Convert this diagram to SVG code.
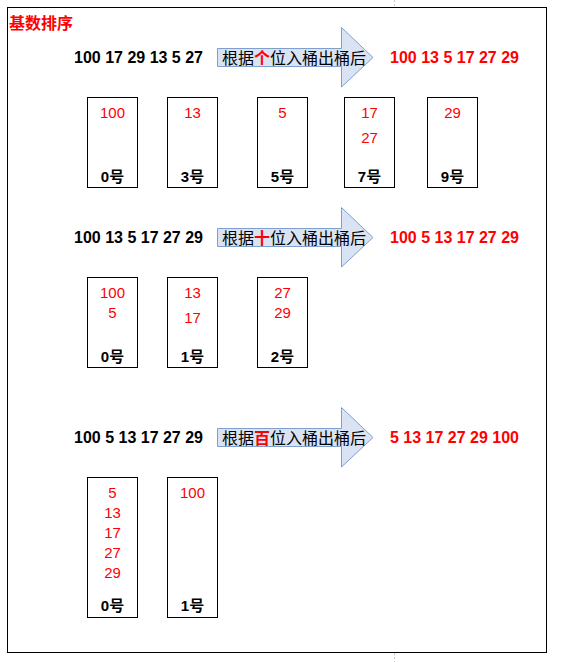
<svg xmlns="http://www.w3.org/2000/svg" width="561" height="662" viewBox="0 0 561 662">
<style>
.frame{fill:#fff;stroke:#000;stroke-width:1}
.box{fill:#fff;stroke:#000;stroke-width:1}
.arrow{fill:#dae3f3;stroke:#7f9fcf;stroke-width:1}
.seq{font-family:"Liberation Sans","Noto Sans CJK SC",sans-serif;font-size:16px;font-weight:bold;fill:#000}
.res{font-family:"Liberation Sans","Noto Sans CJK SC",sans-serif;font-size:16px;font-weight:bold;fill:#ff0000}
.num{font-family:"Liberation Sans",sans-serif;font-size:15px;fill:#ff0000;text-anchor:middle}
.lbl{font-family:"Liberation Sans","Noto Sans CJK SC",sans-serif;font-size:15px;font-weight:bold;fill:#000;text-anchor:middle}
.at{font-family:"Noto Sans CJK SC",sans-serif;font-size:16px;fill:#000}
.hl{fill:#ff0000;font-weight:bold}
.title{font-family:"Noto Sans CJK SC",sans-serif;font-size:16px;font-weight:bold;fill:#ff0000}
.mark{stroke:#c8c8c8;stroke-width:1;stroke-dasharray:2,2}
</style>
<rect width="561" height="662" fill="#fff"/>
<line class="mark" x1="394.5" y1="0" x2="394.5" y2="7"/>
<line class="mark" x1="394.5" y1="653" x2="394.5" y2="662"/>
<rect class="frame" x="7.5" y="7.5" width="539" height="645"/>
<text class="title" x="9" y="29">基数排序</text>

<g id="connectors">
<polygon id="arrow1" class="arrow" points="217.5,48.5 341.5,48.5 341.5,27.5 373,57.5 341.5,87 341.5,66.5 217.5,66.5"/>
<polygon id="arrow2" class="arrow" points="217.5,228.5 341.5,228.5 341.5,207.5 373,237.5 341.5,267 341.5,246.5 217.5,246.5"/>
<polygon id="arrow3" class="arrow" points="217.5,428.5 341.5,428.5 341.5,407.5 373,437.5 341.5,467 341.5,446.5 217.5,446.5"/>
</g>

<g id="row1">
<text class="seq" x="74" y="63">100 17 29 13 5 27</text>
<text class="at" x="222" y="64">根据<tspan class="hl">个</tspan>位入桶出桶后</text>
<text class="res" x="390" y="63">100 13 5 17 27 29</text>
</g>
<g id="r1b0"><rect class="box" x="87.5" y="97.5" width="50" height="90"/><text class="num" x="112.5" y="118">100</text><text class="lbl" x="112.5" y="182">0号</text></g>
<g id="r1b3"><rect class="box" x="167.5" y="97.5" width="50" height="90"/><text class="num" x="192.5" y="118">13</text><text class="lbl" x="192.5" y="182">3号</text></g>
<g id="r1b5"><rect class="box" x="257.5" y="97.5" width="50" height="90"/><text class="num" x="282.5" y="118">5</text><text class="lbl" x="282.5" y="182">5号</text></g>
<g id="r1b7"><rect class="box" x="344.5" y="97.5" width="50" height="90"/><text class="num" x="369.5" y="118">17</text><text class="num" x="369.5" y="143">27</text><text class="lbl" x="369.5" y="182">7号</text></g>
<g id="r1b9"><rect class="box" x="427.5" y="97.5" width="50" height="90"/><text class="num" x="452.5" y="118">29</text><text class="lbl" x="452.5" y="182">9号</text></g>

<g id="row2">
<text class="seq" x="74" y="243">100 13 5 17 27 29</text>
<text class="at" x="222" y="244">根据<tspan class="hl">十</tspan>位入桶出桶后</text>
<text class="res" x="390" y="243">100 5 13 17 27 29</text>
</g>
<g id="r2b0"><rect class="box" x="87.5" y="277.5" width="50" height="90"/><text class="num" x="112.5" y="298">100</text><text class="num" x="112.5" y="318">5</text><text class="lbl" x="112.5" y="362">0号</text></g>
<g id="r2b1"><rect class="box" x="167.5" y="277.5" width="50" height="90"/><text class="num" x="192.5" y="298">13</text><text class="num" x="192.5" y="323">17</text><text class="lbl" x="192.5" y="362">1号</text></g>
<g id="r2b2"><rect class="box" x="257.5" y="277.5" width="50" height="90"/><text class="num" x="282.5" y="298">27</text><text class="num" x="282.5" y="318">29</text><text class="lbl" x="282.5" y="362">2号</text></g>

<g id="row3">
<text class="seq" x="74" y="443">100 5 13 17 27 29</text>
<text class="at" x="222" y="444">根据<tspan class="hl">百</tspan>位入桶出桶后</text>
<text class="res" x="390" y="443">5 13 17 27 29 100</text>
</g>
<g id="r3b0"><rect class="box" x="87.5" y="477.5" width="50" height="140"/><text class="num" x="112.5" y="498">5</text><text class="num" x="112.5" y="518">13</text><text class="num" x="112.5" y="538">17</text><text class="num" x="112.5" y="558">27</text><text class="num" x="112.5" y="578">29</text><text class="lbl" x="112.5" y="611">0号</text></g>
<g id="r3b1"><rect class="box" x="167.5" y="477.5" width="50" height="140"/><text class="num" x="192.5" y="498">100</text><text class="lbl" x="192.5" y="611">1号</text></g>
</svg>
